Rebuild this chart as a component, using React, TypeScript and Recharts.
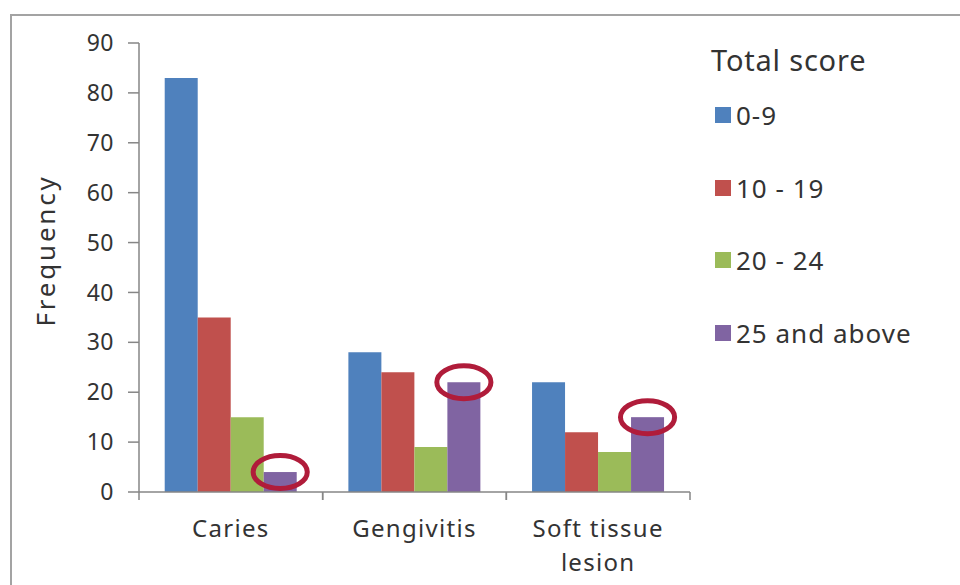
import { Bar, BarChart, XAxis, YAxis } from "recharts";

const categories = ["Caries", "Gengivitis", "Soft tissue lesion"];
const categoryLines = [["Caries"], ["Gengivitis"], ["Soft tissue", "lesion"]];

const score0to9 = [83, 28, 22];
const score10to19 = [35, 24, 12];
const score20to24 = [15, 9, 8];
const score25up = [4, 22, 15];

const yTicks = [0, 10, 20, 30, 40, 50, 60, 70, 80, 90];

const series = [
  { key: "s0", name: "0-9", values: score0to9, color: "#4f81bd" },
  { key: "s1", name: "10 - 19", values: score10to19, color: "#c0504d" },
  { key: "s2", name: "20 - 24", values: score20to24, color: "#9bbb59" },
  { key: "s3", name: "25 and above", values: score25up, color: "#8064a2" },
];

const data = categories.map((name, i) => {
  const row: Record<string, string | number> = { name };
  series.forEach((s) => (row[s.key] = s.values[i]));
  return row;
});

const FONT = "'Noto Sans', 'DejaVu Sans', sans-serif";
const TEXT = "#333333";
const AXIS = "#868686";

function CategoryTick(props: any) {
  const { x, y, payload, index } = props;
  const half = payload?.offset ?? 92;
  const lines = categoryLines[index] ?? [String(payload.value)];
  return (
    <g>
      <line x1={x - half} x2={x - half} y1={y} y2={y + 8} stroke={AXIS} strokeWidth={1.5} />
      <line x1={x + half} x2={x + half} y1={y} y2={y + 8} stroke={AXIS} strokeWidth={1.5} />
      {lines.map((line: string, i: number) => (
        <text
          key={i}
          x={x}
          y={y + 35 + i * 34}
          textAnchor="middle"
          dominantBaseline="central"
          fill={TEXT}
          fontSize={24}
          letterSpacing={1.3}
          fontFamily={FONT}
        >
          {line}
        </text>
      ))}
    </g>
  );
}

// purple bars get a red ring around their top edge
function CircledBar(props: any) {
  const { x, y, width, height, fill } = props;
  return (
    <g>
      <rect x={x} y={y} width={width} height={height} fill={fill} />
      <ellipse
        cx={x + width / 2}
        cy={y}
        rx={width * 0.82}
        ry={16.5}
        fill="none"
        stroke="#b01c3a"
        strokeWidth={5}
      />
    </g>
  );
}

function FrequencyLabel(props: any) {
  const vb = props.viewBox ?? { x: 79, y: 43, width: 60, height: 449 };
  const cx = vb.x - 34;
  const cy = vb.y + vb.height / 2 - 17;
  return (
    <text
      x={cx}
      y={cy}
      transform={`rotate(-90 ${cx} ${cy})`}
      textAnchor="middle"
      dominantBaseline="central"
      fill={TEXT}
      fontSize={26}
      letterSpacing={2.8}
      fontFamily={FONT}
    >
      Frequency
    </text>
  );
}

export default function App() {
  return (
    <div
      style={{
        position: "absolute",
        left: 0,
        top: 0,
        width: 960,
        height: 585,
        background: "#fff",
        overflow: "hidden",
      }}
    >
      <div
        style={{
          position: "absolute",
          left: 10,
          top: 14,
          width: 960,
          height: 600,
          borderTop: "2.5px solid #a3a3a3",
          borderLeft: "2.5px solid #a3a3a3",
        }}
      />
      <div style={{ position: "absolute", left: 0, top: 0 }}>
        <BarChart
          width={960}
          height={585}
          data={data}
          margin={{ top: 43, right: 270, bottom: 33, left: 79 }}
          barCategoryGap="14%"
          barGap={0}
        >
          <XAxis
            dataKey="name"
            height={60}
            interval={0}
            tickLine={false}
            tickSize={0}
            tickMargin={0}
            axisLine={{ stroke: AXIS, strokeWidth: 1.5 }}
            tick={<CategoryTick />}
          />
          <YAxis
            width={60}
            domain={[0, 90]}
            ticks={yTicks}
            interval={0}
            tickSize={11}
            tickMargin={14}
            axisLine={{ stroke: AXIS, strokeWidth: 1.5 }}
            tickLine={{ stroke: AXIS, strokeWidth: 1.5 }}
            tick={{ fill: TEXT, fontSize: 23, fontFamily: FONT, letterSpacing: 0.5 }}
            label={<FrequencyLabel />}
          />
          {series.map((s) => (
            <Bar
              key={s.key}
              dataKey={s.key}
              name={s.name}
              fill={s.color}
              isAnimationActive={false}
              shape={s.key === "s3" ? <CircledBar /> : undefined}
            />
          ))}
        </BarChart>
      </div>
      <div
        style={{
          position: "absolute",
          left: 711,
          top: 40,
          fontFamily: FONT,
          color: TEXT,
        }}
      >
        <div style={{ fontSize: 29, lineHeight: "40px", height: 40, letterSpacing: 0.8, whiteSpace: "nowrap" }}>
          Total score
        </div>
        {series.map((s, i) => (
          <div
            key={s.key}
            style={{
              position: "absolute",
              top: 55 + i * 72.5,
              left: 4,
              display: "flex",
              alignItems: "center",
              whiteSpace: "nowrap",
              height: 40,
            }}
          >
            <span
              style={{
                display: "inline-block",
                width: 16,
                height: 16,
                background: s.color,
                marginRight: 5,
              }}
            />
            <span style={{ fontSize: 26, letterSpacing: 1 }}>{s.name}</span>
          </div>
        ))}
      </div>
    </div>
  );
}
